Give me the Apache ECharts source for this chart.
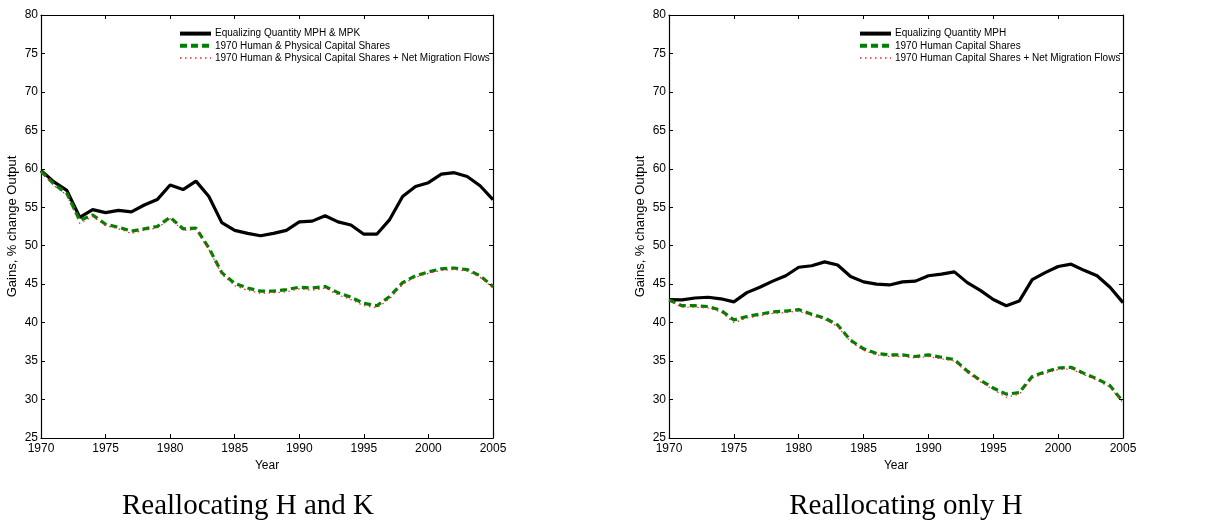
<!DOCTYPE html>
<html>
<head>
<meta charset="utf-8">
<script src="https://cdn.jsdelivr.net/npm/echarts@6/dist/echarts.min.js"></script>
<style>
  html, body { margin: 0; padding: 0; background: #fff; }
  #chart { width: 1231px; height: 521px; }
</style>
</head>
<body>
<div id="chart"></div>
<script>
// years 1970..2005
var years = [];
for (var y = 1970; y <= 2005; y++) years.push(y);

// left panel: reallocating H and K
var hkEqual = [59.8, 58.3, 57.2, 53.7, 54.7, 54.3, 54.6, 54.4, 55.3, 56.0,
               57.9, 57.3, 58.4, 56.4, 53.0, 52.0, 51.6, 51.3, 51.6, 52.0,
               53.1, 53.2, 53.9, 53.1, 52.7, 51.5, 51.5, 53.4, 56.4, 57.7,
               58.2, 59.3, 59.5, 59.0, 57.8, 56.0];
var hkShares = [59.7, 58.0, 56.8, 53.3, 54.0, 52.8, 52.4, 51.9, 52.2, 52.5,
                53.7, 52.2, 52.3, 49.7, 46.5, 45.1, 44.5, 44.1, 44.1, 44.3,
                44.6, 44.5, 44.7, 43.9, 43.3, 42.5, 42.2, 43.4, 45.2, 46.1,
                46.6, 47.0, 47.1, 46.9, 46.1, 44.7];
var hkMigr = [59.6, 57.8, 56.6, 52.9, 53.8, 52.6, 52.2, 51.6, 52.0, 52.3,
              53.5, 52.0, 52.1, 49.5, 46.3, 44.8, 44.2, 43.8, 43.9, 44.0,
              44.4, 44.2, 44.5, 43.6, 43.0, 42.2, 41.9, 43.1, 45.0, 45.9,
              46.4, 46.8, 46.9, 46.7, 45.9, 44.5];

// right panel: reallocating only H
var hEqual = [43.0, 42.95, 43.2, 43.3, 43.1, 42.7, 43.9, 44.6, 45.4, 46.1,
              47.2, 47.4, 47.9, 47.5, 46.0, 45.3, 45.0, 44.9, 45.3, 45.4,
              46.1, 46.3, 46.6, 45.2, 44.2, 43.0, 42.2, 42.8, 45.6, 46.5,
              47.3, 47.6, 46.8, 46.1, 44.6, 42.6];
var hShares = [42.95, 42.2, 42.2, 42.1, 41.6, 40.35, 40.8, 41.1, 41.4, 41.5,
               41.7, 41.1, 40.6, 39.7, 37.7, 36.6, 36.0, 35.8, 35.8, 35.6,
               35.8, 35.5, 35.2, 33.7, 32.5, 31.5, 30.7, 30.9, 33.0, 33.6,
               34.1, 34.2, 33.4, 32.7, 31.8, 29.7];
var hMigr = [42.9, 42.0, 42.0, 41.9, 41.4, 40.0, 40.6, 40.9, 41.2, 41.3,
             41.5, 40.9, 40.4, 39.5, 37.5, 36.4, 35.8, 35.6, 35.6, 35.4,
             35.6, 35.3, 35.0, 33.5, 32.3, 31.3, 30.3, 30.7, 32.8, 33.4,
             33.9, 34.0, 33.2, 32.5, 31.6, 29.6];

var namesHK = ['Equalizing Quantity MPH & MPK',
               '1970 Human & Physical Capital Shares',
               '1970 Human & Physical Capital Shares + Net Migration Flows'];
var namesH = ['Equalizing Quantity MPH',
              '1970 Human Capital Shares',
              '1970 Human Capital Shares + Net Migration Flows'];

var FONT = 'Liberation Sans';
var STYLES = [
    { color: '#000', width: 3.2, type: 'solid' },
    { color: '#008000', width: 3.2, type: [7, 4] },
    { color: '#ff2020', width: 1.2, type: [1.5, 3.5] }
];

function pairs(vals) {
    return vals.map(function (v, i) { return [years[i], v]; });
}

function xAxes(gi) {
    return [{
        gridIndex: gi, type: 'value', min: 1970, max: 2005, interval: 5,
        name: 'Year', nameLocation: 'middle', nameGap: 22,
        nameTextStyle: { fontFamily: FONT, fontSize: 12, color: '#000' },
        axisLine: { lineStyle: { color: '#000', width: 1.2 } },
        axisTick: { inside: true, length: 4, lineStyle: { color: '#000' } },
        axisLabel: { fontFamily: FONT, fontSize: 12, color: '#000', margin: 5,
                     formatter: function (v) { return String(v); } },
        splitLine: { show: false }
    }, {
        gridIndex: gi, type: 'value', min: 1970, max: 2005, interval: 5, position: 'top',
        axisLine: { lineStyle: { color: '#000', width: 1.2 } },
        axisTick: { inside: true, length: 4, lineStyle: { color: '#000' } },
        axisLabel: { show: false }, splitLine: { show: false }
    }];
}

function yAxes(gi) {
    return [{
        gridIndex: gi, type: 'value', min: 25, max: 80, interval: 5,
        name: 'Gains, % change Output', nameLocation: 'middle', nameGap: 22,
        nameTextStyle: { fontFamily: FONT, fontSize: 13, color: '#000' },
        axisLine: { show: true, lineStyle: { color: '#000', width: 1.2 } },
        axisTick: { inside: true, length: 4, lineStyle: { color: '#000' } },
        axisLabel: { fontFamily: FONT, fontSize: 12, color: '#000', margin: 3 },
        splitLine: { show: false }
    }, {
        gridIndex: gi, type: 'value', min: 25, max: 80, interval: 5, position: 'right',
        axisLine: { show: true, lineStyle: { color: '#000', width: 1.2 } },
        axisTick: { inside: true, length: 4, lineStyle: { color: '#000' } },
        axisLabel: { show: false }, splitLine: { show: false }
    }];
}

function seriesFor(names, vals, axisIdx) {
    return names.map(function (n, k) {
        return {
            name: n, type: 'line', xAxisIndex: axisIdx, yAxisIndex: axisIdx,
            data: pairs(vals[k]), symbol: 'none', animation: false,
            lineStyle: STYLES[k], itemStyle: { color: STYLES[k].color }
        };
    });
}

function legendFor(names, left) {
    return {
        data: names.map(function (n, k) {
            return { name: n, lineStyle: { color: STYLES[k].color, width: k === 2 ? 1.5 : 4, type: STYLES[k].type } };
        }),
        orient: 'vertical', left: left, top: 23,
        itemWidth: 31, itemHeight: 14, itemGap: 1,
        selectedMode: false,
        itemStyle: { opacity: 0 },
        textStyle: { fontFamily: FONT, fontSize: 10, color: '#000', padding: [0, 0, 0, -1] }
    };
}

var chart = echarts.init(document.getElementById('chart'));
chart.setOption({
    backgroundColor: '#fff',
    animation: false,
    grid: [
        { left: 41, top: 15, width: 452, height: 423, containLabel: false },
        { left: 669, top: 15, width: 454, height: 423, containLabel: false }
    ],
    xAxis: xAxes(0).concat(xAxes(1)),
    yAxis: yAxes(0).concat(yAxes(1)),
    legend: [legendFor(namesHK, 173), legendFor(namesH, 853)],
    series: seriesFor(namesHK, [hkEqual, hkShares, hkMigr], 0)
        .concat(seriesFor(namesH, [hEqual, hShares, hMigr], 2)),
    graphic: [
        { type: 'text', x: 248, y: 506,
          style: { text: 'Reallocating H and K', font: '29px "Liberation Serif"', fill: '#000',
                   textAlign: 'center', textVerticalAlign: 'middle' } },
        { type: 'text', x: 906, y: 506,
          style: { text: 'Reallocating only H', font: '29px "Liberation Serif"', fill: '#000',
                   textAlign: 'center', textVerticalAlign: 'middle' } }
    ]
});
</script>
</body>
</html>
